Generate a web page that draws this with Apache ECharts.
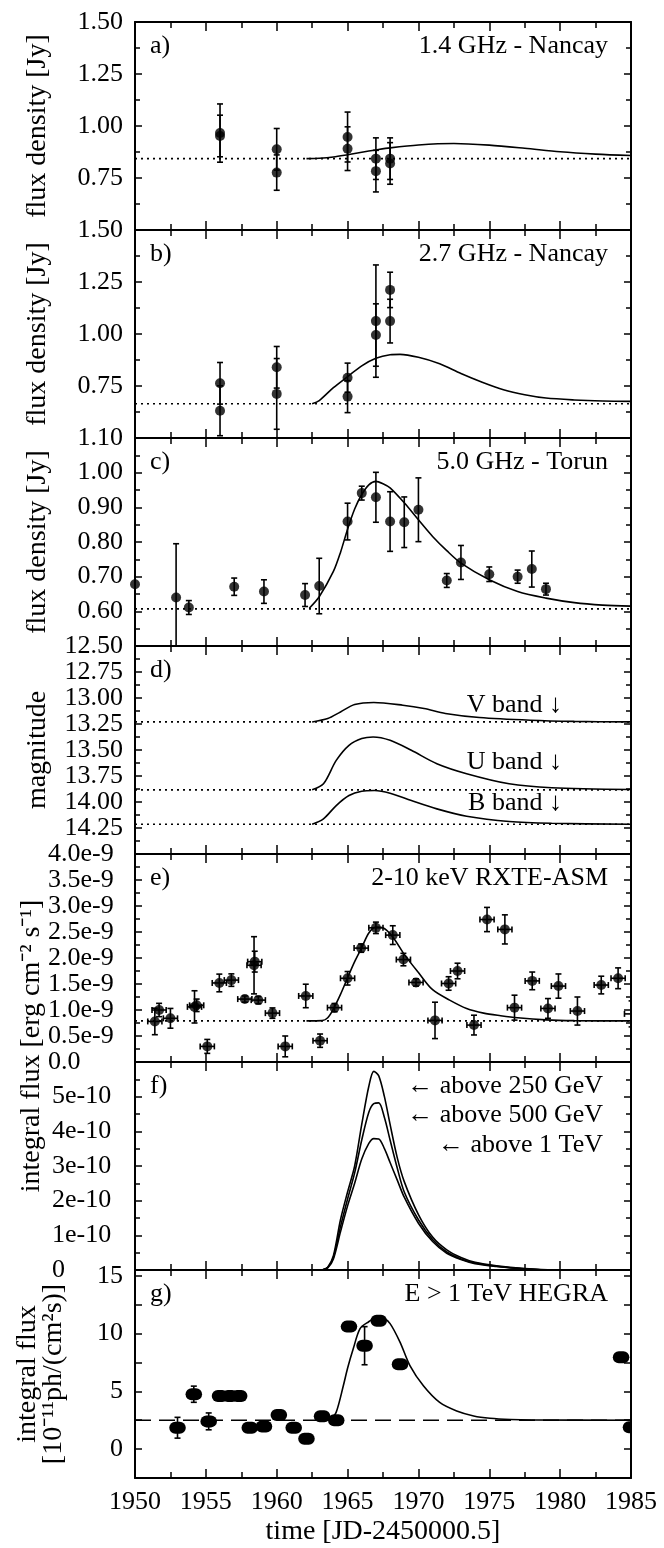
<!DOCTYPE html>
<html>
<head>
<meta charset="utf-8">
<script src="https://cdn.jsdelivr.net/npm/echarts@6/dist/echarts.min.js"></script>
<style>
  html, body { margin: 0; padding: 0; background: #fff; }
  #chart { width: 664px; height: 1548px; }
</style>
</head>
<body>
<div id="chart"></div>
<script>
// a) 1.4 GHz Nancay
const nancay14Time = [1956, 1956, 1960, 1960, 1965, 1965, 1967, 1967, 1968, 1968];
const nancay14Flux = [0.966, 0.952, 0.888, 0.776, 0.947, 0.891, 0.843, 0.783, 0.843, 0.820];
const nancay14Err = [0.14, 0.10, 0.10, 0.085, 0.12, 0.105, 0.10, 0.10, 0.10, 0.10];
const nancay14Base = 0.843;
const nancay14ModelTime = [1962.1, 1963, 1964, 1965, 1966, 1967, 1968, 1970, 1972.5, 1975, 1977.5, 1980, 1982.5, 1985];
const nancay14Model = [0.843, 0.845, 0.851, 0.862, 0.874, 0.885, 0.895, 0.909, 0.916, 0.908, 0.893, 0.876, 0.865, 0.858];

// b) 2.7 GHz Nancay
const nancay27Time = [1956, 1956, 1960, 1960, 1965, 1965, 1967, 1967, 1968, 1968];
const nancay27Flux = [0.763, 0.631, 0.840, 0.712, 0.790, 0.699, 1.062, 0.995, 1.212, 1.062];
const nancay27Err = [0.10, 0.12, 0.10, 0.17, 0.07, 0.077, 0.27, 0.15, 0.085, 0.105];
const nancay27Base = 0.665;
const nancay27ModelTime = [1962.5, 1963, 1964, 1965, 1966, 1967, 1968, 1968.7, 1970, 1971.5, 1973, 1974.5, 1976, 1977.5, 1979, 1981, 1983, 1985];
const nancay27Model = [0.665, 0.680, 0.742, 0.795, 0.847, 0.883, 0.900, 0.902, 0.888, 0.857, 0.810, 0.768, 0.732, 0.708, 0.692, 0.683, 0.678, 0.676];

// c) 5.0 GHz Torun
const torunTime = [1950.0, 1952.9, 1953.8, 1957.0, 1959.1, 1962.0, 1963.0, 1965.0, 1966.0, 1967.0, 1968.0, 1969.0, 1970.0, 1972.0, 1973.0, 1975.0, 1977.0, 1978.0, 1979.0];
const torunFlux = [0.678, 0.640, 0.611, 0.671, 0.657, 0.647, 0.673, 0.859, 0.941, 0.929, 0.859, 0.857, 0.893, 0.689, 0.741, 0.707, 0.700, 0.722, 0.664];
const torunErr = [0, 0.155, 0.02, 0.025, 0.034, 0.033, 0.08, 0.053, 0.02, 0.072, 0.086, 0.073, 0.092, 0.02, 0.049, 0.021, 0.019, 0.052, 0.017];
const torunBase = 0.607;
const torunModelTime = [1962.3, 1963, 1964, 1964.5, 1965, 1965.5, 1966, 1966.5, 1967, 1967.5, 1968, 1969, 1970, 1971, 1972, 1973, 1975, 1977, 1979, 1981, 1983, 1985];
const torunModel = [0.609, 0.642, 0.715, 0.770, 0.837, 0.895, 0.937, 0.965, 0.975, 0.968, 0.956, 0.913, 0.864, 0.816, 0.775, 0.739, 0.691, 0.657, 0.638, 0.625, 0.618, 0.615];

// d) optical magnitudes
const vBandTime = [1962.5, 1963.6, 1964.5, 1965.5, 1966.85, 1968.9, 1970.4, 1971.9, 1974.3, 1977.9, 1981, 1985];
const vBandMag = [13.23, 13.198, 13.134, 13.063, 13.043, 13.069, 13.101, 13.149, 13.188, 13.214, 13.225, 13.23];
const vBandBase = 13.23;
const uBandTime = [1962.5, 1963.3, 1964.2, 1965.1, 1966, 1966.8, 1968, 1969.5, 1971.3, 1973.4, 1976.4, 1979.4, 1985];
const uBandMag = [13.883, 13.825, 13.60, 13.455, 13.39, 13.375, 13.407, 13.503, 13.632, 13.728, 13.825, 13.863, 13.88];
const uBandBase = 13.883;
const bBandTime = [1962.5, 1963.3, 1964.2, 1965.1, 1966, 1966.9, 1968, 1969.5, 1971.3, 1973.4, 1976.4, 1979.4, 1985];
const bBandMag = [14.214, 14.162, 14.034, 13.938, 13.896, 13.889, 13.915, 13.986, 14.066, 14.137, 14.188, 14.205, 14.214];
const bBandBase = 14.214;

// e) RXTE-ASM 2-10 keV, flux in 1e-9 erg cm^-2 s^-1
const asmTime = [1951.4, 1951.7, 1952.5, 1954.2, 1954.35, 1955.1, 1955.95, 1956.8, 1957.75, 1958.4, 1958.45, 1958.7, 1959.7, 1960.6, 1962.05, 1963.06, 1964.08, 1965.0, 1965.96, 1967.0, 1968.19, 1968.94, 1969.83, 1971.17, 1972.13, 1972.76, 1973.92, 1974.84, 1976.1, 1976.78, 1978.03, 1979.14, 1979.88, 1981.22, 1982.9, 1984.09, 1985.04];
const asmFlux = [0.78, 1.00, 0.84, 1.06, 1.09, 0.30, 1.52, 1.575, 1.21, 1.86, 1.93, 1.19, 0.94, 0.30, 1.27, 0.41, 1.045, 1.61, 2.19, 2.58, 2.44, 1.97, 1.53, 0.80, 1.51, 1.75, 0.71, 2.74, 2.55, 1.045, 1.56, 1.03, 1.46, 0.98, 1.48, 1.61, 0.925];
const asmErr = [0.255, 0.128, 0.19, 0.31, 0.12, 0.134, 0.17, 0.12, 0.06, 0.55, 0.2, 0.07, 0.1, 0.2, 0.226, 0.128, 0.08, 0.13, 0.08, 0.11, 0.18, 0.12, 0.07, 0.35, 0.13, 0.15, 0.19, 0.233, 0.28, 0.24, 0.17, 0.19, 0.233, 0.27, 0.17, 0.2, 0.25];
const asmTimeErr = 0.5;
const asmBase = 0.79;
const asmModelTime = [1962.1, 1963.2, 1963.6, 1964, 1964.5, 1965, 1965.5, 1966, 1966.5, 1967, 1967.5, 1968.2, 1969, 1970, 1971, 1972.2, 1973.4, 1974.6, 1975.8, 1977, 1979, 1981, 1985];
const asmModel = [0.79, 0.795, 0.85, 1.02, 1.30, 1.62, 1.93, 2.20, 2.48, 2.595, 2.58, 2.40, 2.07, 1.72, 1.39, 1.19, 1.03, 0.94, 0.89, 0.85, 0.81, 0.795, 0.79];

// f) predicted integral TeV flux, in 1e-10 (same time grid for the three curves)
const tevModelTime = [1963.2, 1963.6, 1964.0, 1964.5, 1965.0, 1965.5, 1966.0, 1966.5, 1966.85, 1967.2, 1967.6, 1968.0, 1968.5, 1969.0, 1970.0, 1971.0, 1972.0, 1973.0, 1974.0, 1975.5, 1977.5, 1979.5, 1985];
const above250Flux = [0, 0.08, 0.41, 1.45, 2.25, 3.0, 4.2, 5.3, 5.73, 5.6, 5.0, 4.2, 3.25, 2.55, 1.6, 0.95, 0.58, 0.36, 0.22, 0.12, 0.04, 0, 0];
const above500Flux = [0, 0.07, 0.36, 1.25, 2.05, 2.8, 3.75, 4.55, 4.8, 4.82, 4.4, 3.75, 2.95, 2.25, 1.45, 0.88, 0.52, 0.32, 0.2, 0.11, 0.035, 0, 0];
const above1000Flux = [0, 0.06, 0.32, 1.1, 1.85, 2.5, 3.2, 3.65, 3.79, 3.78, 3.5, 3.1, 2.6, 2.1, 1.35, 0.82, 0.48, 0.3, 0.18, 0.1, 0.03, 0, 0];

// g) HEGRA E > 1 TeV, in 1e-11 ph/(cm^2 s)
const hegraTime = [1953.0, 1954.15, 1955.2, 1956.0, 1956.7, 1957.35, 1958.1, 1959.1, 1960.15, 1961.2, 1962.1, 1963.2, 1964.2, 1965.1, 1966.2, 1967.2, 1968.7, 1984.3, 1985.0];
const hegraFlux = [1.85, 4.75, 2.4, 4.6, 4.6, 4.6, 1.85, 1.95, 2.95, 1.85, 0.9, 2.85, 2.5, 10.6, 8.95, 11.1, 7.35, 7.95, 1.9];
const hegraErr = [0.9, 0.7, 0.73, 0, 0, 0, 0, 0, 0, 0, 0, 0, 0, 0, 1.65, 0, 0, 0.3, 0];
const hegraBase = 2.5;
const hegraModelTime = [1963.8, 1964.2, 1964.7, 1965.0, 1965.4, 1965.88, 1966.47, 1967.1, 1967.5, 1968.0, 1968.7, 1969.4, 1970.35, 1971.5, 1972.7, 1973.9, 1975.05, 1976.5, 1978, 1985];
const hegraModel = [2.5, 3.2, 5.48, 7.0, 8.68, 10.42, 11.0, 11.4, 11.35, 10.86, 9.26, 7.23, 5.48, 4.04, 3.3, 2.87, 2.67, 2.56, 2.52, 2.5];

const timeTicks = [1950, 1955, 1960, 1965, 1970, 1975, 1980, 1985];

// ---- layout ----
const FONT = '"Liberation Serif", "Times New Roman", serif';
const FS = 26;      // tick labels, in-plot text
const FS_NAME = 28; // axis names
const LEFT = 135, RIGHT_EDGE = 631;
const panelTop = [22, 230, 438, 646, 854, 1062, 1270];
const panelH = 208;

const zip = (xs, ys) => xs.map((x, i) => [x, ys[i]]);

const yDefs = [
  { min: 0.5, max: 1.5, interval: 0.25, fmt: v => v.toFixed(2), showMin: false, showMax: true, name: 'flux density [Jy]' },
  { min: 0.5, max: 1.5, interval: 0.25, fmt: v => v.toFixed(2), showMin: false, showMax: true, name: 'flux density [Jy]' },
  { min: 0.5, max: 1.1, interval: 0.1, fmt: v => v.toFixed(2), showMin: false, showMax: true, name: 'flux density [Jy]' },
  { min: 12.5, max: 14.5, interval: 0.25, inverse: true, fmt: v => v.toFixed(2), showMin: true, showMax: false, name: 'magnitude' },
  { min: 0, max: 4, interval: 0.5, fmt: v => v === 0 ? '0.0' : v.toFixed(1) + 'e-9', showMin: true, showMax: true, align: 'left', margin: 87 },
  { min: 0, max: 6, interval: 1, fmt: v => v === 0 ? '0' : Math.round(v) + 'e-10', showMin: true, showMax: false, align: 'left', margin: 83 },
  { min: -2.5, max: 15.5, interval: 2.5, fmt: v => (v >= 0 && v <= 15 && Math.abs(v % 5) < 1e-9) ? String(v) : '', showMin: true, showMax: true, noMinor: true,
    name: 'integral flux\n[10\u207B\u00B9\u00B9ph/(cm\u00B2s)]', nameGap: 68 }
];

const grids = [], xAxes = [], yAxes = [];
yDefs.forEach((d, i) => {
  grids.push({ left: LEFT, width: RIGHT_EDGE - LEFT, top: panelTop[i], height: panelH });
  const last = i === yDefs.length - 1;
  ['bottom', 'top'].forEach(pos => {
    xAxes.push({
      type: 'value', gridIndex: i, position: pos, min: 1950, max: 1985, interval: 5,
      axisLine: { onZero: false, lineStyle: { color: '#000', width: 2 } },
      axisTick: { inside: true, length: 9, lineStyle: { color: '#000', width: 1.5 } },
      minorTick: { show: true, splitNumber: 2, length: 6, lineStyle: { color: '#000', width: 1.5 } },
      splitLine: { show: false },
      axisLabel: { show: last && pos === 'bottom', fontFamily: FONT, fontSize: FS, color: '#000', margin: 11,
        formatter: v => timeTicks.includes(v) ? String(v) : '' },
      name: last && pos === 'bottom' ? 'time [JD-2450000.5]' : '',
      nameLocation: 'middle', nameGap: 40,
      nameTextStyle: { fontFamily: FONT, fontSize: FS_NAME, color: '#000' }
    });
  });
  ['left', 'right'].forEach(pos => {
    yAxes.push({
      type: 'value', gridIndex: i, position: pos, min: d.min, max: d.max, interval: d.interval, inverse: !!d.inverse,
      axisLine: { onZero: false, lineStyle: { color: '#000', width: 2 } },
      axisTick: { inside: true, length: 7, lineStyle: { color: '#000', width: 1.5 } },
      minorTick: { show: !d.noMinor, splitNumber: 2, length: 5, lineStyle: { color: '#000', width: 1.5 } },
      splitLine: { show: false },
      axisLabel: { show: pos === 'left', fontFamily: FONT, fontSize: FS, color: '#000',
        margin: d.margin || 12, align: d.align || 'right', formatter: d.fmt,
        showMinLabel: d.showMin, showMaxLabel: d.showMax },
      name: pos === 'left' && d.name ? d.name : '',
      nameLocation: 'middle', nameGap: d.nameGap || 84,
      nameTextStyle: { fontFamily: FONT, fontSize: FS_NAME, color: '#000', lineHeight: 26 }
    });
  });
});

const ax = i => ({ xAxisIndex: 2 * i, yAxisIndex: 2 * i });

const curve = (i, xs, ys) => Object.assign({
  type: 'line', data: zip(xs, ys), smooth: 0.3, showSymbol: false, clip: true,
  lineStyle: { color: '#000', width: 1.6 }, silent: true, z: 3
}, ax(i));

const baseline = (i, b, dash) => Object.assign({
  type: 'line', data: [[1950, b], [1985, b]], showSymbol: false, clip: true,
  lineStyle: { color: '#000', width: 1.6, type: dash || [2, 4] }, silent: true, z: 2
}, ax(i));

const dots = (i, xs, ys) => Object.assign({
  type: 'scatter', data: zip(xs, ys), symbol: 'circle', symbolSize: 10, clip: true,
  itemStyle: { color: '#000' }, silent: true, z: 5
}, ax(i));

function errItem(params, api) {
  const t = api.value(0), v = api.value(1), ey = api.value(2), ex = api.value(3);
  const st = { stroke: '#000', lineWidth: 1.6 };
  const kids = [];
  const seg = (x1, y1, x2, y2) => kids.push({ type: 'line', shape: { x1, y1, x2, y2 }, style: st });
  if (ey > 0) {
    const hi = api.coord([t, v + ey]), lo = api.coord([t, v - ey]);
    seg(hi[0], hi[1], lo[0], lo[1]);
    seg(hi[0] - 3, hi[1], hi[0] + 3, hi[1]);
    seg(lo[0] - 3, lo[1], lo[0] + 3, lo[1]);
  }
  if (ex > 0) {
    const l = api.coord([t - ex, v]), r = api.coord([t + ex, v]);
    seg(l[0], l[1], r[0], r[1]);
    seg(l[0], l[1] - 3, l[0], l[1] + 3);
    seg(r[0], r[1] - 3, r[0], r[1] + 3);
  }
  return { type: 'group', children: kids };
}

const errors = (i, xs, ys, es, xerr) => Object.assign({
  type: 'custom', renderItem: errItem, clip: true, silent: true, z: 4,
  data: xs.map((x, k) => [x, ys[k], es[k], xerr || 0])
}, ax(i));

// HEGRA nightly points: short thick capsules
const hegraBlobs = Object.assign({
  type: 'custom', clip: true, silent: true, z: 5,
  data: hegraTime.map((t, k) => [t, hegraFlux[k], hegraErr[k]]),
  renderItem: (params, api) => {
    const t = api.value(0), v = api.value(1), e = api.value(2);
    const a = api.coord([t - 0.16, v]), b = api.coord([t + 0.16, v]);
    const kids = [{ type: 'line', shape: { x1: a[0], y1: a[1], x2: b[0], y2: b[1] },
      style: { stroke: '#000', lineWidth: 12, lineCap: 'round' } }];
    if (e > 0) {
      const hi = api.coord([t, v + e]), lo = api.coord([t, v - e]);
      const st = { stroke: '#000', lineWidth: 1.6 };
      kids.push({ type: 'line', shape: { x1: hi[0], y1: hi[1], x2: lo[0], y2: lo[1] }, style: st });
      kids.push({ type: 'line', shape: { x1: hi[0] - 3, y1: hi[1], x2: hi[0] + 3, y2: hi[1] }, style: st });
      kids.push({ type: 'line', shape: { x1: lo[0] - 3, y1: lo[1], x2: lo[0] + 3, y2: lo[1] }, style: st });
    }
    return { type: 'group', children: kids };
  }
}, ax(6));

const series = [
  baseline(0, nancay14Base), curve(0, nancay14ModelTime, nancay14Model),
  errors(0, nancay14Time, nancay14Flux, nancay14Err), dots(0, nancay14Time, nancay14Flux),

  baseline(1, nancay27Base), curve(1, nancay27ModelTime, nancay27Model),
  errors(1, nancay27Time, nancay27Flux, nancay27Err), dots(1, nancay27Time, nancay27Flux),

  baseline(2, torunBase), curve(2, torunModelTime, torunModel),
  errors(2, torunTime, torunFlux, torunErr), dots(2, torunTime, torunFlux),

  baseline(3, vBandBase), curve(3, vBandTime, vBandMag),
  baseline(3, uBandBase), curve(3, uBandTime, uBandMag),
  baseline(3, bBandBase), curve(3, bBandTime, bBandMag),

  baseline(4, asmBase), curve(4, asmModelTime, asmModel),
  errors(4, asmTime, asmFlux, asmErr, asmTimeErr), dots(4, asmTime, asmFlux),

  curve(5, tevModelTime, above250Flux), curve(5, tevModelTime, above500Flux), curve(5, tevModelTime, above1000Flux),

  baseline(6, hegraBase, [16, 8]), curve(6, hegraModelTime, hegraModel), hegraBlobs
];

// ---- annotations ----
const txt = (x, y, text, align) => ({
  type: 'text', x, y, silent: true, z: 10,
  style: { text, font: FS + 'px ' + FONT, fill: '#000', textAlign: align || 'left', textVerticalAlign: 'middle' }
});
const panelLetters = ['a)', 'b)', 'c)', 'd)', 'e)', 'f)', 'g)'];
const panelTitles = ['1.4 GHz - Nancay', '2.7 GHz - Nancay', '5.0 GHz - Torun', '', '2-10 keV RXTE-ASM', '', 'E > 1 TeV HEGRA'];
const graphic = [];
panelLetters.forEach((s, i) => {
  graphic.push(txt(150, panelTop[i] + 24, s));
  if (panelTitles[i]) graphic.push(txt(608, panelTop[i] + 24, panelTitles[i], 'right'));
});
graphic.push(txt(562, 705, 'V band \u2193', 'right'));
graphic.push(txt(562, 762, 'U band \u2193', 'right'));
graphic.push(txt(562, 803, 'B band \u2193', 'right'));
graphic.push(txt(603, 1086, '\u2190 above 250 GeV', 'right'));
graphic.push(txt(603, 1115, '\u2190 above 500 GeV', 'right'));
graphic.push(txt(603, 1145, '\u2190 above 1 TeV', 'right'));
graphic.push({
  type: 'text', x: 32, y: 1046, rotation: Math.PI / 2, silent: true,
  style: { text: 'integral flux [erg cm\u207B\u00B2 s\u207B\u00B9]', font: FS_NAME + 'px ' + FONT, fill: '#000',
    textAlign: 'center', textVerticalAlign: 'middle' }
});

const chart = echarts.init(document.getElementById('chart'), null, { renderer: 'canvas' });
chart.setOption({
  animation: false,
  backgroundColor: '#fff',
  grid: grids,
  xAxis: xAxes,
  yAxis: yAxes,
  series,
  graphic
});
</script>
</body>
</html>
